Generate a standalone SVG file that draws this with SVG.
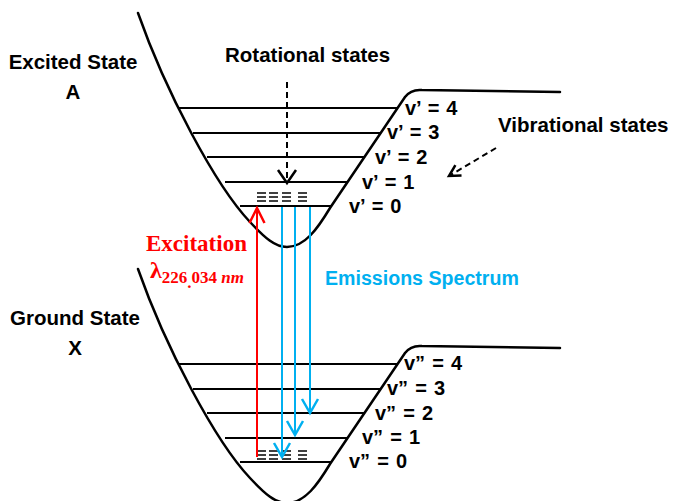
<svg xmlns="http://www.w3.org/2000/svg" width="673" height="501" viewBox="0 0 673 501">
<style>
.bg{fill:#fff}
.curve{fill:none;stroke:#000;stroke-width:2.5;stroke-linecap:round}
.lvl{stroke:#000;stroke-width:2}
.rot{stroke:#000;stroke-width:1.5}
.lbl{font-family:"Liberation Sans",Arial,sans-serif;font-weight:bold;font-size:20.5px;fill:#000}
.vl{font-family:"Liberation Sans",Arial,sans-serif;font-weight:bold;font-size:20px;word-spacing:1.5px;fill:#000}
.exc{font-family:"Liberation Serif","Times New Roman",serif;font-weight:bold;fill:#f00}
.em{font-family:"Liberation Sans",Arial,sans-serif;font-weight:bold;font-size:19.6px;fill:#00B0F0}
.red{stroke:#f00;stroke-width:2;fill:none}
.blue{stroke:#00B0F0;stroke-width:2;fill:none}
.dash{stroke:#000;stroke-width:2;stroke-dasharray:6,4;fill:none}
</style>
<defs>
<marker id="hRed" viewBox="-16 -10 20 20" refX="0" refY="0" markerWidth="20" markerHeight="20" markerUnits="userSpaceOnUse" orient="auto" overflow="visible"><path d="M-15,-7.5 L0,0 L-15,7.5" fill="none" stroke="#f00" stroke-width="2.5"/></marker>
<marker id="hBlue" viewBox="-16 -10 20 20" refX="0" refY="0" markerWidth="20" markerHeight="20" markerUnits="userSpaceOnUse" orient="auto" overflow="visible"><path d="M-14,-8 L0,0 L-14,8" fill="none" stroke="#00B0F0" stroke-width="2.5"/></marker>
<marker id="hBlack" viewBox="-16 -10 20 20" refX="0" refY="0" markerWidth="20" markerHeight="20" markerUnits="userSpaceOnUse" orient="auto" overflow="visible"><path d="M-13,-9 L0,0 L-13,9" fill="none" stroke="#000" stroke-width="2.5"/></marker>
<marker id="hSmall" viewBox="-16 -10 20 20" refX="0" refY="0" markerWidth="20" markerHeight="20" markerUnits="userSpaceOnUse" orient="auto" overflow="visible"><path d="M-11,-6 L0,0 L-11,6" fill="none" stroke="#000" stroke-width="2.5"/></marker>
<g id="rotmarks">
<line class="rot" x1="257" y1="193" x2="266" y2="193"/><line class="rot" x1="257" y1="197" x2="266" y2="197"/><line class="rot" x1="257" y1="201" x2="266" y2="201"/>
<line class="rot" x1="269" y1="193" x2="278" y2="193"/><line class="rot" x1="269" y1="197" x2="278" y2="197"/><line class="rot" x1="269" y1="201" x2="278" y2="201"/>
<line class="rot" x1="282" y1="193" x2="291" y2="193"/><line class="rot" x1="282" y1="197" x2="291" y2="197"/><line class="rot" x1="282" y1="201" x2="291" y2="201"/>
<line class="rot" x1="298" y1="193" x2="307" y2="193"/><line class="rot" x1="298" y1="197" x2="307" y2="197"/><line class="rot" x1="298" y1="201" x2="307" y2="201"/>
</g>
<g id="well">
<path class="curve" d="M138,13 C165,90 215,185 250,222 C265,238 275,247 287,247 C305,247 318,228 330,208 L405,97 Q411,89 422,90 L560,92"/>
<line class="lvl" x1="178" y1="108" x2="397" y2="108"/>
<line class="lvl" x1="193" y1="133" x2="381" y2="133"/>
<line class="lvl" x1="207" y1="157" x2="365" y2="157"/>
<line class="lvl" x1="225" y1="182" x2="348" y2="182"/>
<line class="lvl" x1="240" y1="206" x2="332" y2="206"/>
</g>
</defs>
<rect class="bg" x="0" y="0" width="673" height="501"/>

<g id="excited-state">
<use href="#well"/>
<use href="#rotmarks"/>
<text class="lbl" x="73" y="69" text-anchor="middle">Excited State</text>
<text class="lbl" x="73" y="99" text-anchor="middle">A</text>
<text class="vl" x="405" y="115">v’ = 4</text>
<text class="vl" x="387" y="139">v’ = 3</text>
<text class="vl" x="375" y="164">v’ = 2</text>
<text class="vl" x="362" y="189">v’ = 1</text>
<text class="vl" x="349" y="213">v’ = 0</text>
</g>

<g id="ground-state">
<use href="#well" transform="translate(0,256)"/>
<use href="#rotmarks" transform="translate(0,258)"/>
<text class="lbl" x="75" y="325" text-anchor="middle">Ground State</text>
<text class="lbl" x="75" y="355" text-anchor="middle">X</text>
<text class="vl" x="404" y="370">v” = 4</text>
<text class="vl" x="387" y="395">v” = 3</text>
<text class="vl" x="375" y="420">v” = 2</text>
<text class="vl" x="362" y="444">v” = 1</text>
<text class="vl" x="349" y="468">v” = 0</text>
</g>

<g id="rotational-label">
<text class="lbl" x="225" y="62">Rotational states</text>
</g>
<g id="vibrational-label">
<text class="lbl" x="498" y="132">Vibrational states</text>
</g>
<g id="excitation-label">
<text class="exc" x="146" y="251" font-size="23">Excitation</text>
<text class="exc" x="150" y="278" font-size="24">λ<tspan font-size="17" dy="5">226</tspan><tspan font-size="17" dy="5">.</tspan><tspan font-size="17" dy="-5">034 </tspan><tspan font-size="17" font-style="italic">nm</tspan></text>
</g>
<g id="emission-label">
<text class="em" x="325" y="285">Emissions Spectrum</text>
</g>

<g id="connectors">
<line class="red" x1="257" y1="457" x2="257" y2="208" marker-end="url(#hRed)"/>
<line class="blue" x1="282" y1="207" x2="282" y2="457" marker-end="url(#hBlue)"/>
<line class="blue" x1="295" y1="207" x2="295" y2="435" marker-end="url(#hBlue)"/>
<line class="blue" x1="310" y1="207" x2="310" y2="413" marker-end="url(#hBlue)"/>
<line class="dash" x1="287" y1="82" x2="287" y2="183" marker-end="url(#hBlack)"/>
<line class="dash" x1="496" y1="148" x2="449" y2="176" marker-end="url(#hSmall)"/>
</g>
</svg>
